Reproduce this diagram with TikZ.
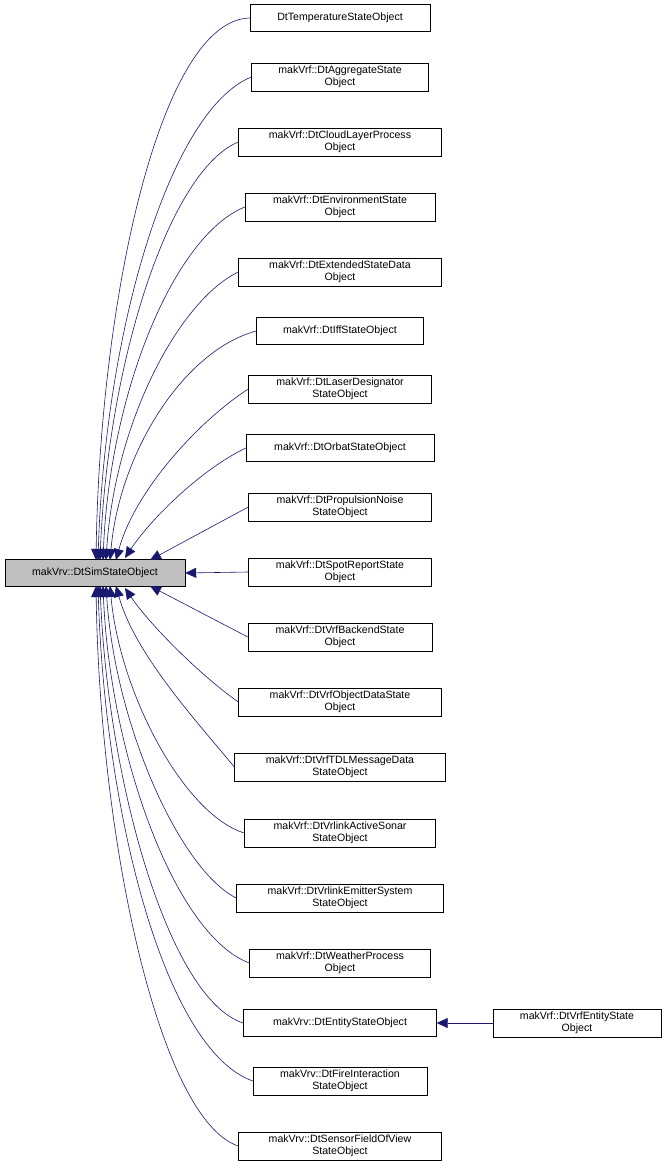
\documentclass[tikz,border=0pt]{standalone}
\usepackage{fontspec}
\setmainfont{Liberation Sans}
\usetikzlibrary{arrows.meta,calc}
\definecolor{navy}{RGB}{25,25,112}
\begin{document}
\begin{tikzpicture}[x=1pt,y=-1pt,
  box/.style={draw=black,fill=white,font=\fontsize{10.6}{12}\selectfont,align=center,inner xsep=5pt,inner ysep=3pt,minimum height=27pt},
  edge/.style={draw=navy,line width=0.6pt,-{Triangle[length=11pt,width=10pt,fill=navy]}}]
\useasboundingbox (0,0) rectangle (667,1173);
\node[box,fill={rgb,255:red,191;green,191;blue,191},minimum width=180pt] (main) at (95,573) {makVrv::DtSimStateObject};
\node[box,minimum width=180pt] (n1) at (340,18) {DtTemperatureStateObject};
\node[box,minimum width=177pt] (n2) at (340,77) {makVrf::DtAggregateState\\Object};
\node[box,minimum width=203pt] (n3) at (340,142) {makVrf::DtCloudLayerProcess\\Object};
\node[box,minimum width=190pt] (n4) at (340,207) {makVrf::DtEnvironmentState\\Object};
\node[box,minimum width=203pt] (n5) at (340,272) {makVrf::DtExtendedStateData\\Object};
\node[box,minimum width=167pt] (n6) at (340,331) {makVrf::DtIffStateObject};
\node[box,minimum width=183pt] (n7) at (340,389) {makVrf::DtLaserDesignator\\StateObject};
\node[box,minimum width=188pt] (n8) at (340,448) {makVrf::DtOrbatStateObject};
\node[box,minimum width=183pt] (n9) at (340,507) {makVrf::DtPropulsionNoise\\StateObject};
\node[box,minimum width=183pt] (n10) at (340,572) {makVrf::DtSpotReportState\\Object};
\node[box,minimum width=184pt] (n11) at (340,637) {makVrf::DtVrfBackendState\\Object};
\node[box,minimum width=203pt] (n12) at (340,702) {makVrf::DtVrfObjectDataState\\Object};
\node[box,minimum width=211pt] (n13) at (340,767) {makVrf::DtVrfTDLMessageData\\StateObject};
\node[box,minimum width=191pt] (n14) at (340,833) {makVrf::DtVrlinkActiveSonar\\StateObject};
\node[box,minimum width=207pt] (n15) at (340,898) {makVrf::DtVrlinkEmitterSystem\\StateObject};
\node[box,minimum width=181pt] (n16) at (340,963) {makVrf::DtWeatherProcess\\Object};
\node[box,minimum width=193pt] (n17) at (340,1023) {makVrv::DtEntityStateObject};
\node[box,minimum width=174pt] (n18) at (340,1081) {makVrv::DtFireInteraction\\StateObject};
\node[box,minimum width=203pt] (n19) at (340,1146) {makVrv::DtSensorFieldOfView\\StateObject};
\node[box,minimum width=168pt] (ve) at (577,1023) {makVrf::DtVrfEntityState\\Object};
\coordinate (e1) at (96,560); \coordinate (e2) at (98,560); \coordinate (e3) at (100,560);
\coordinate (e4) at (103,560); \coordinate (e5) at (106,560); \coordinate (e6) at (110,560);
\coordinate (e7) at (116,560); \coordinate (e8) at (125,558); \coordinate (e9) at (150,560);
\coordinate (e11) at (150,586); \coordinate (e12) at (125,588); \coordinate (e13) at (116,586);
\coordinate (e14) at (110,586); \coordinate (e15) at (106,586); \coordinate (e16) at (103,586);
\coordinate (e17) at (100,586); \coordinate (e18) at (98,586); \coordinate (e19) at (96,586);
\draw[edge] (n1.west) .. controls (160,20) and (100,300) .. (e1);
\draw[edge] (n2.west) .. controls (170,110) and (105,330) .. (e2);
\draw[edge] (n3.west) .. controls (170,170) and (108,360) .. (e3);
\draw[edge] (n4.west) .. controls (175,235) and (110,390) .. (e4);
\draw[edge] (n5.west) .. controls (180,300) and (115,420) .. (e5);
\draw[edge] (n6.west) .. controls (185,350) and (120,450) .. (e6);
\draw[edge] (n7.west) .. controls (200,420) and (135,490) .. (e7);
\draw[edge] (n8.west) .. controls (200,470) and (150,520) .. (e8);
\draw[edge] (n9.west) -- (e9);
\draw[edge] (n10.west) -- (main.east);
\draw[edge] (n11.west) -- (e11);
\draw[edge] (n12.west) .. controls (200,675) and (150,625) .. (e12);
\draw[edge] (n13.west) .. controls (200,725) and (135,655) .. (e13);
\draw[edge] (n14.west) .. controls (185,815) and (120,695) .. (e14);
\draw[edge] (n15.west) .. controls (180,870) and (115,725) .. (e15);
\draw[edge] (n16.west) .. controls (175,935) and (110,755) .. (e16);
\draw[edge] (n17.west) .. controls (170,1000) and (108,785) .. (e17);
\draw[edge] (n18.west) .. controls (165,1050) and (105,815) .. (e18);
\draw[edge] (n19.west) .. controls (160,1120) and (100,845) .. (e19);
\draw[edge] (ve.west) -- (n17.east);
\end{tikzpicture}
\end{document}
